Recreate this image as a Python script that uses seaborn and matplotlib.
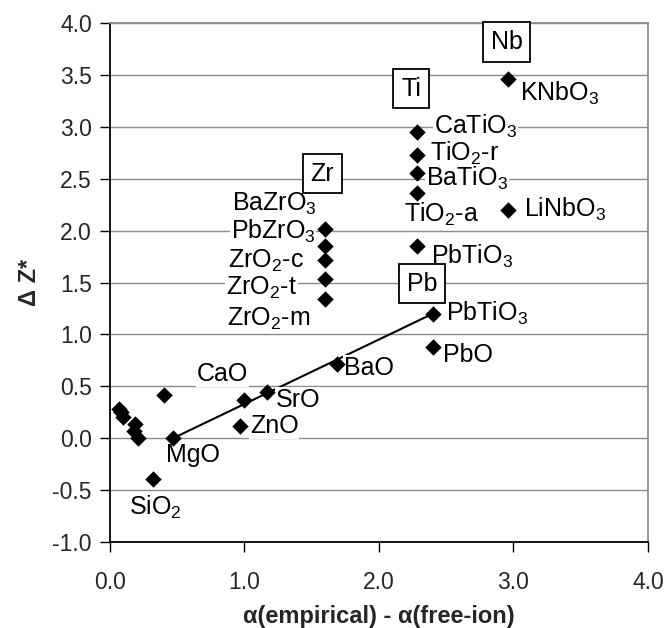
import matplotlib
matplotlib.use("Agg")
import matplotlib.pyplot as plt
import seaborn as sns
import pandas as pd

# ---- data ----
compounds = ["KNbO3", "LiNbO3",
             "CaTiO3", "TiO2-r", "BaTiO3", "TiO2-a", "PbTiO3 (Ti)",
             "BaZrO3", "PbZrO3", "ZrO2-c", "ZrO2-t", "ZrO2-m",
             "PbTiO3 (Pb)", "PbO", "BaO", "SrO", "CaO", "ZnO", "MgO", "SiO2",
             "u1", "u2", "u3", "u4", "u5", "u6", "u7"]
x_vals = [2.96, 2.96,
          2.28, 2.28, 2.28, 2.28, 2.28,
          1.60, 1.60, 1.60, 1.60, 1.60,
          2.40, 2.40, 1.69, 1.17, 1.00, 0.97, 0.47, 0.32,
          0.07, 0.08, 0.10, 0.19, 0.18, 0.21, 0.40]
y_vals = [3.46, 2.20,
          2.95, 2.73, 2.56, 2.36, 1.85,
          2.02, 1.85, 1.72, 1.53, 1.34,
          1.20, 0.88, 0.72, 0.45, 0.37, 0.12, 0.00, -0.39,
          0.28, 0.25, 0.20, 0.14, 0.07, 0.00, 0.42]

trend_x = [0.47, 2.40]
trend_y = [0.00, 1.20]

x_ticks = [0.0, 1.0, 2.0, 3.0, 4.0]
y_ticks = [-1.0, -0.5, 0.0, 0.5, 1.0, 1.5, 2.0, 2.5, 3.0, 3.5, 4.0]

# label text and where it sits (data coords), with alignment
labels = [
    ("KNbO$_3$", 3.05, 3.32, "left"),
    ("LiNbO$_3$", 3.08, 2.21, "left"),
    ("CaTiO$_3$", 2.41, 3.01, "left"),
    ("TiO$_2$-r", 2.38, 2.75, "left"),
    ("BaTiO$_3$", 2.35, 2.50, "left"),
    ("TiO$_2$-a", 2.19, 2.16, "left"),
    ("PbTiO$_3$", 2.39, 1.75, "left"),
    ("BaZrO$_3$", 1.54, 2.26, "right"),
    ("PbZrO$_3$", 1.53, 1.99, "right"),
    ("ZrO$_2$-c", 1.44, 1.71, "right"),
    ("ZrO$_2$-t", 1.39, 1.45, "right"),
    ("ZrO$_2$-m", 1.49, 1.15, "right"),
    ("PbTiO$_3$", 2.50, 1.20, "left"),
    ("PbO", 2.48, 0.80, "left"),
    ("BaO", 1.74, 0.68, "left"),
    ("SrO", 1.23, 0.37, "left"),
    ("CaO", 0.84, 0.62, "center"),
    ("ZnO", 1.04, 0.12, "left"),
    ("MgO", 0.42, -0.16, "left"),
    ("SiO$_2$", 0.34, -0.67, "center"),
]
boxes = [("Nb", 2.95, 3.82), ("Ti", 2.24, 3.37), ("Zr", 1.58, 2.55), ("Pb", 2.32, 1.49)]

df = pd.DataFrame({"compound": compounds, "x": x_vals, "y": y_vals})
trend = pd.DataFrame({"x": trend_x, "y": trend_y})

sns.set_theme(style="white")
plt.rcParams["font.family"] = ["Liberation Sans", "DejaVu Sans"]
plt.rcParams["mathtext.fontset"] = "custom"
plt.rcParams["mathtext.rm"] = "Liberation Sans"
plt.rcParams["mathtext.it"] = "Liberation Sans"
plt.rcParams["mathtext.default"] = "rm"

fig = plt.figure(figsize=(6.70, 6.28), dpi=100)
ax = fig.add_axes([0.164, 0.137, 0.803, 0.826])

for yt in y_ticks:
    ax.axhline(yt, color="#8c8c8c", lw=1.0, zorder=0)

sns.lineplot(data=trend, x="x", y="y", ax=ax, color="black", lw=1.5, zorder=2)
sns.scatterplot(data=df, x="x", y="y", ax=ax, marker="D", s=70, color="black",
                edgecolor="black", linewidth=0, zorder=4)

for txt, tx, ty, ha in labels:
    ax.text(tx, ty, txt, ha=ha, va="center", fontsize=18, color="black", zorder=3,
            bbox=dict(facecolor="white", edgecolor="none", pad=0.5))
for txt, tx, ty in boxes:
    ax.text(tx, ty, txt, ha="center", va="center", fontsize=18, color="black", zorder=3,
            bbox=dict(facecolor="white", edgecolor="black", lw=1.3, pad=5.5))

ax.set_xlim(0, 4)
ax.set_ylim(-1, 4)
ax.set_xticks(x_ticks)
ax.set_xticklabels([f"{v:.1f}" for v in x_ticks])
ax.set_yticks(y_ticks)
ax.set_yticklabels([f"{v:.1f}" for v in y_ticks])
ax.tick_params(axis="both", labelsize=16.5, direction="out", length=7, width=1,
               color="black", pad=6, bottom=True, left=True)
ax.tick_params(axis="x", pad=14)

for s in ["left", "bottom"]:
    ax.spines[s].set_color("black")
    ax.spines[s].set_linewidth(1.3)
for s in ["top", "right"]:
    ax.spines[s].set_color("#8c8c8c")
    ax.spines[s].set_linewidth(1.3)

ax.set_xlabel("α(empirical) - α(free-ion)", fontsize=17, fontweight="bold", labelpad=8)
ax.set_ylabel("Δ Z*", fontsize=17, fontweight="bold", labelpad=8)

fig.savefig("out.png", dpi=100)
